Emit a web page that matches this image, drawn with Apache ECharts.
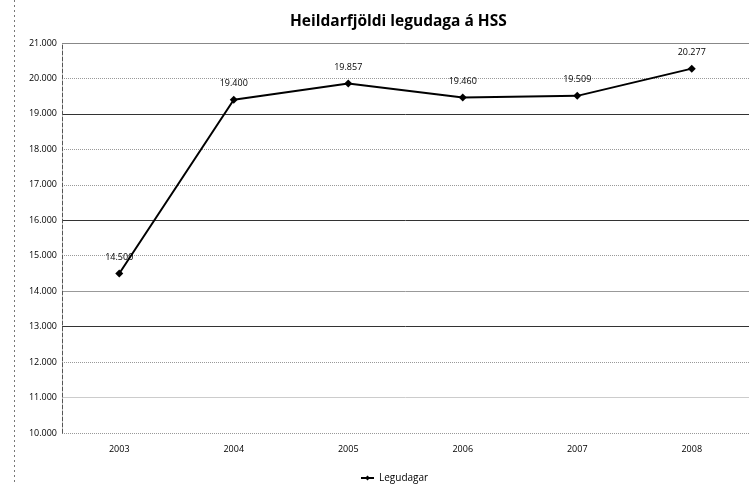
<!DOCTYPE html>
<html>
<head>
<meta charset="utf-8">
<script src="https://cdn.jsdelivr.net/npm/echarts@6/dist/echarts.min.js"></script>
<style>
  html, body { margin: 0; padding: 0; background: #fff; }
  #chart { width: 749px; height: 484px; }
</style>
</head>
<body>
<div id="chart"></div>
<script>
// data
var years = ["2003", "2004", "2005", "2006", "2007", "2008"];
var legudagar = [14500, 19400, 19857, 19460, 19509, 20277];
var seriesName = "Legudagar";

function fmt(v) {
  return String(v).replace(/\B(?=(\d{3})+(?!\d))/g, ".");
}

var myChart = echarts.init(document.getElementById("chart"));
var option = {
  backgroundColor: "#fff",
  title: {
    text: "Heildarfjöldi legudaga á HSS",
    left: 285,
    top: 9,
    textStyle: {
      fontFamily: "Open Sans",
      fontWeight: "bold",
      fontSize: 15.5,
      color: "#000"
    }
  },
  legend: {
    left: 355,
    top: 468,
    itemWidth: 13,
    itemHeight: 6,
    itemGap: 4,
    data: [seriesName],
    textStyle: { fontFamily: "Open Sans", fontSize: 10, color: "#000" }
  },
  // chart border (dotted left edge of the scanned chart area)
  graphic: [
    {
      type: "line",
      shape: { x1: 14.5, y1: 0, x2: 14.5, y2: 484 },
      style: { stroke: "#777", lineDash: [2, 3], lineWidth: 1 }
    }
  ],
  grid: { left: 62, right: -8, top: 43, bottom: 51 },
  xAxis: {
    type: "category",
    data: years,
    axisLine: { show: false },
    axisTick: { show: false },
    axisLabel: { fontFamily: "Open Sans", fontSize: 9, color: "#000", margin: 12 }
  },
  yAxis: [
    {
      type: "value",
      min: 10000,
      max: 21000,
      interval: 1000,
      axisLine: { show: true, lineStyle: { color: "#555", type: "dashed", width: 1 } },
      axisTick: { show: false },
      axisLabel: {
        fontFamily: "Open Sans",
        fontSize: 9,
        color: "#000",
        margin: 5,
        formatter: function (v) { return fmt(v); }
      },
      splitLine: {
        show: true,
        lineStyle: { color: "#999", type: "dotted", width: 1 }
      }
    },
    {
      // darker gridlines as in the scanned original
      type: "value",
      min: 10000,
      max: 21000,
      interval: 1000,
      position: "left",
      axisLine: { show: false },
      axisTick: { show: false },
      axisLabel: { show: false },
      splitLine: {
        show: true,
        lineStyle: {
          color: ["transparent", "#ccc", "transparent", "#333", "#999",
                  "transparent", "#333", "transparent", "transparent", "#333",
                  "transparent", "#888"],
          type: "solid",
          width: 1
        }
      }
    }
  ],
  series: [
    {
      name: seriesName,
      type: "line",
      data: legudagar,
      symbol: "diamond",
      symbolSize: 8,
      lineStyle: { color: "#000", width: 2 },
      itemStyle: { color: "#000" },
      label: {
        show: true,
        position: "top",
        distance: 8,
        fontFamily: "Open Sans",
        fontSize: 9,
        color: "#000",
        formatter: function (p) { return fmt(p.value); }
      }
    }
  ]
};
myChart.setOption(option);
</script>
</body>
</html>
